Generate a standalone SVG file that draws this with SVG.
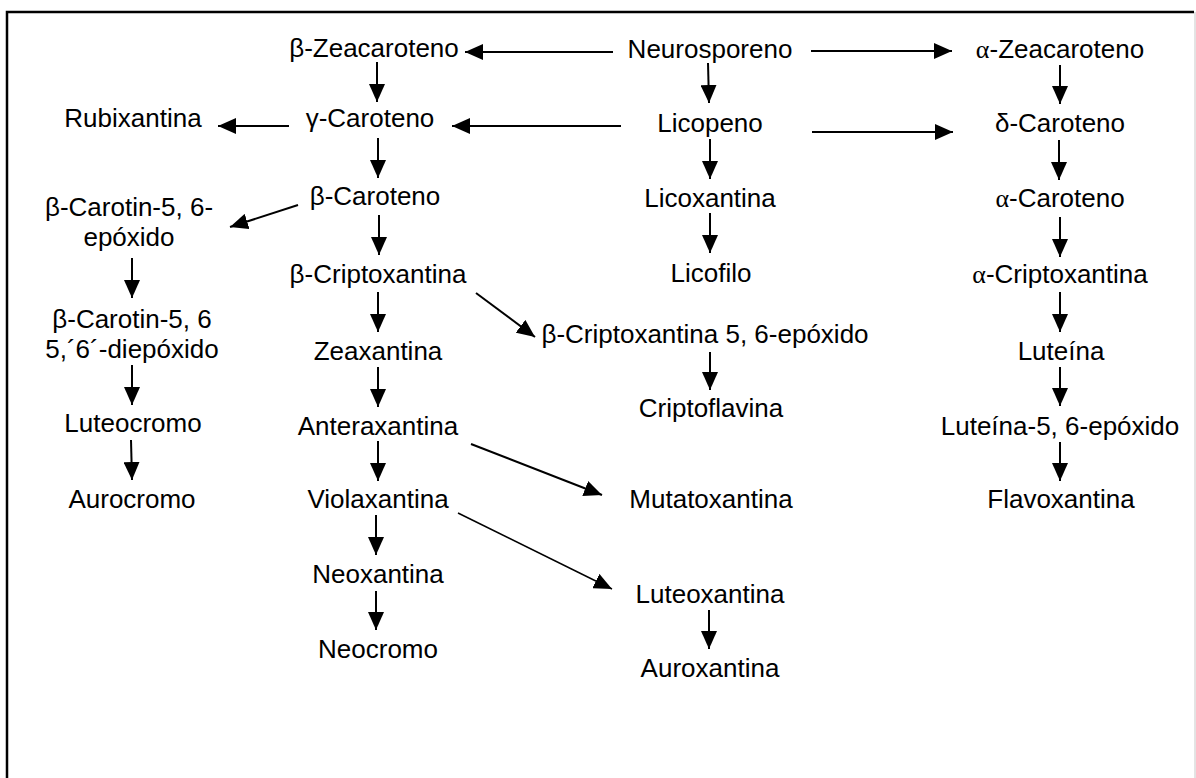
<svg xmlns="http://www.w3.org/2000/svg" width="1196" height="778" viewBox="0 0 1196 778">
<style>
text{font-family:"Liberation Sans",Arial,sans-serif;font-size:26px;fill:#000;text-anchor:middle}
.g{font-family:"Liberation Serif","Times New Roman",serif}
.c path{fill:none;stroke:#000;stroke-width:2;marker-end:url(#ah)}
.c path.t{stroke-width:1.5}
</style>
<defs>
<marker id="ah" markerUnits="userSpaceOnUse" markerWidth="18" markerHeight="16" refX="18" refY="8" orient="auto">
<path d="M0,0 L18,8 L0,16 z" fill="#000"/>
</marker>
</defs>
<rect width="1196" height="778" fill="#fff"/>
<path d="M7,778 V12 H1194" fill="none" stroke="#000" stroke-width="2.5"/>
<path d="M1195,12 V778" fill="none" stroke="#c8c8c8" stroke-width="1"/>
<g id="n_bzea"><text x="374" y="57">β-Zeacaroteno</text></g>
<g id="n_neuro"><text x="710" y="58">Neurosporeno</text></g>
<g id="n_azea"><text x="1060" y="58"><tspan class="g">α</tspan>-Zeacaroteno</text></g>
<g id="n_rubix"><text x="133" y="127">Rubixantina</text></g>
<g id="n_gcar"><text x="370" y="127">γ-Caroteno</text></g>
<g id="n_lico"><text x="710" y="132">Licopeno</text></g>
<g id="n_dcar"><text x="1060" y="132">δ-Caroteno</text></g>
<g id="n_bcar"><text x="375" y="205">β-Caroteno</text></g>
<g id="n_bcep"><text x="129" y="216">β-Carotin-5, 6-</text><text x="129" y="246">epóxido</text></g>
<g id="n_licox"><text x="710" y="207">Licoxantina</text></g>
<g id="n_acar"><text x="1060" y="207"><tspan class="g">α</tspan>-Caroteno</text></g>
<g id="n_bcrip"><text x="378" y="283">β-Criptoxantina</text></g>
<g id="n_licof"><text x="711" y="282">Licofilo</text></g>
<g id="n_acrip"><text x="1060" y="283"><tspan class="g">α</tspan>-Criptoxantina</text></g>
<g id="n_bcdiep"><text x="132" y="328">β-Carotin-5, 6</text><text x="132" y="358">5,´6´-diepóxido</text></g>
<g id="n_bcrip56"><text x="705" y="343">β-Criptoxantina 5, 6-epóxido</text></g>
<g id="n_zeax"><text x="378" y="360">Zeaxantina</text></g>
<g id="n_lut"><text x="1061" y="360">Luteína</text></g>
<g id="n_criptof"><text x="711" y="417">Criptoflavina</text></g>
<g id="n_luteoc"><text x="133" y="432">Luteocromo</text></g>
<g id="n_anter"><text x="378" y="435">Anteraxantina</text></g>
<g id="n_lut56"><text x="1060" y="435">Luteína-5, 6-epóxido</text></g>
<g id="n_auroc"><text x="132" y="508">Aurocromo</text></g>
<g id="n_viola"><text x="378" y="508">Violaxantina</text></g>
<g id="n_mutat"><text x="711" y="508">Mutatoxantina</text></g>
<g id="n_flavox"><text x="1061" y="508">Flavoxantina</text></g>
<g id="n_neox"><text x="378" y="583">Neoxantina</text></g>
<g id="n_luteox"><text x="710" y="603">Luteoxantina</text></g>
<g id="n_neoc"><text x="378" y="658">Neocromo</text></g>
<g id="n_aurox"><text x="710" y="677">Auroxantina</text></g>
<g id="connectors" class="c">
<path d="M613,52 L465,52"/>
<path d="M811,51 L952,51"/>
<path d="M377,62 L377,102"/>
<path d="M708,63 L709,103"/>
<path d="M1060,65 L1060,104"/>
<path d="M289,126 L218,126"/>
<path d="M621,126 L452,126"/>
<path d="M812,132 L953,132"/>
<path d="M378,138 L378,178"/>
<path d="M710,139 L710,179"/>
<path d="M1059,140 L1059,180"/>
<path d="M298,205 L230,227"/>
<path d="M379,215 L379,255"/>
<path d="M710,213 L710,253"/>
<path d="M1060,217 L1060,257"/>
<path d="M132,258 L132,298"/>
<path d="M378,292 L378,332"/>
<path d="M476,293 L535,337"/>
<path d="M1060,292 L1060,332"/>
<path d="M710,352 L710,390"/>
<path d="M378,367 L378,407"/>
<path d="M1060,367 L1060,406"/>
<path d="M132,365 L132,405"/>
<path d="M378,441 L378,481"/>
<path d="M471,444 L602,495"/>
<path d="M1060,442 L1060,481"/>
<path d="M131,440 L132,480"/>
<path d="M376,515 L376,555"/>
<path class="t" d="M458,513 L612,589"/>
<path d="M376,591 L376,630"/>
<path d="M709,610 L709,649"/>
</g>
</svg>
